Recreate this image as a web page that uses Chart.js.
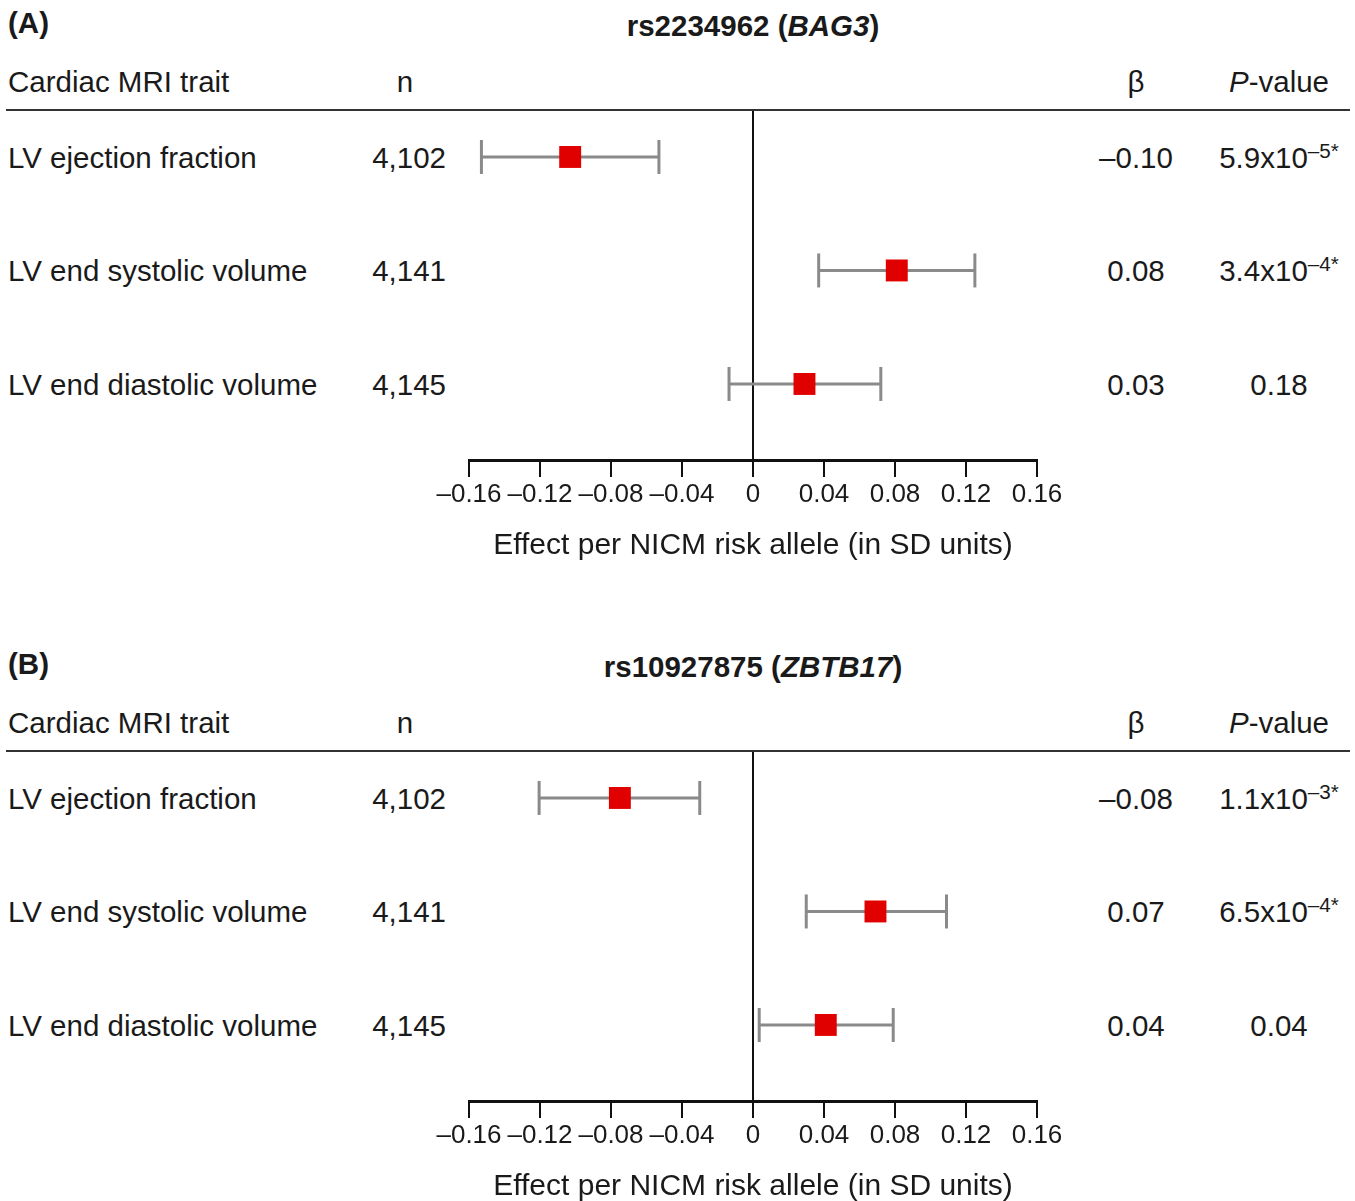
<!DOCTYPE html>
<html lang="en">
<head>
<meta charset="UTF-8">
<title>Cardiac MRI forest plot</title>
<script src="https://cdn.jsdelivr.net/npm/chart.js"></script>
<style>
  body { margin: 0; background: #fff; }
  #page { position: relative; width: 1355px; height: 1201px; overflow: hidden;
          font-family: "Liberation Sans", Arial, sans-serif; color: #1a1a1a; }
  .t { position: absolute; white-space: nowrap; line-height: 1.15; font-size: 29.5px; }
  .t sup { font-size: 0.7em; vertical-align: 0.5em; line-height: 0; }
  .rule { position: absolute; height: 2px; background: #333; }
  canvas { position: absolute; left: 0; }
</style>
</head>
<body>
<div id="page"></div>

<script>
// shared rows
const traits = ['LV ejection fraction', 'LV end systolic volume', 'LV end diastolic volume'];
const sampleN = ['4,102', '4,141', '4,145'];
const xTicks = [-0.16, -0.12, -0.08, -0.04, 0, 0.04, 0.08, 0.12, 0.16];

// panel A: rs2234962 (BAG3)
const betaA = [-0.103, 0.081, 0.029];
const lowA = [-0.153, 0.037, -0.0135];
const highA = [-0.053, 0.125, 0.072];
const betaTextA = ['–0.10', '0.08', '0.03'];
const pBaseA = ['5.9x10', '3.4x10', '0.18'];
const pExpA = ['–5*', '–4*', ''];

// panel B: rs10927875 (ZBTB17)
const betaB = [-0.075, 0.069, 0.041];
const lowB = [-0.1205, 0.030, 0.0035];
const highB = [-0.030, 0.109, 0.079];
const betaTextB = ['–0.08', '0.07', '0.04'];
const pBaseB = ['1.1x10', '6.5x10', '0.04'];
const pExpB = ['–3*', '–4*', ''];

const page = document.getElementById('page');

function label(html, x, y, align, extra) {
    const d = document.createElement('div');
    d.className = 't';
    d.innerHTML = html;
    d.style.left = x + 'px';
    d.style.top = y + 'px';
    const tx = align === 'center' ? '-50%' : align === 'right' ? '-100%' : '0';
    d.style.transform = 'translate(' + tx + ',-50%)';
    if (extra) Object.assign(d.style, extra);
    page.appendChild(d);
}

function panel(top, tag, snp, gene, beta, low, high, betaText, pBase, pExp) {
    const rowY = [158, 271, 385];

    label(tag, 8, top + 23, 'left', { fontWeight: 'bold' });
    label(snp + ' (<i>' + gene + '</i>)', 753, top + 26, 'center', { fontWeight: 'bold' });

    label('Cardiac MRI trait', 8, top + 82, 'left');
    label('n', 405, top + 82, 'center');
    label('β', 1136, top + 82, 'center');
    label('<i>P</i>-value', 1279, top + 82, 'center');

    const r = document.createElement('div');
    r.className = 'rule';
    r.style.left = '6px';
    r.style.width = '1344px';
    r.style.top = (top + 109) + 'px';
    page.appendChild(r);

    traits.forEach((tr, i) => {
        label(tr, 8, top + rowY[i], 'left');
        label(sampleN[i], 446, top + rowY[i], 'right');
        label(betaText[i], 1136, top + rowY[i], 'center');
        label(pBase[i] + (pExp[i] ? '<sup>' + pExp[i] + '</sup>' : ''), 1279, top + rowY[i], 'center');
    });

    const cv = document.createElement('canvas');
    cv.width = 1355;
    cv.height = 460;
    cv.style.top = (top + 111) + 'px';
    page.appendChild(cv);

    const whiskers = traits.map((tr, i) => ({
        type: 'line',
        label: tr + ' CI',
        data: [{ x: low[i], y: i + 1 }, { x: high[i], y: i + 1 }],
        showLine: true,
        borderColor: '#8a8a8a',
        borderWidth: 3,
        pointStyle: 'line',
        rotation: 90,
        pointRadius: 17,
        pointBorderColor: '#8a8a8a',
        pointBorderWidth: 3,
        order: 2
    }));

    new Chart(cv.getContext('2d'), {
        type: 'scatter',
        data: {
            datasets: [{
                label: 'beta',
                data: beta.map((b, i) => ({ x: b, y: i + 1 })),
                pointStyle: 'rect',
                pointRadius: 15.5,
                backgroundColor: '#e00000',
                borderColor: '#e00000',
                borderWidth: 0,
                order: 0
            }, ...whiskers]
        },
        options: {
            responsive: false,
            animation: false,
            devicePixelRatio: 1,
            layout: { autoPadding: false, padding: { left: 469, right: 318, top: 0, bottom: 0 } },
            plugins: { legend: { display: false }, tooltip: { enabled: false } },
            scales: {
                x: {
                    type: 'linear',
                    min: xTicks[0],
                    max: xTicks[xTicks.length - 1],
                    afterBuildTicks: s => { s.ticks = xTicks.map(v => ({ value: v })); },
                    afterFit: s => { s.height = 111; },
                    border: { display: true, color: '#111', width: 3 },
                    grid: {
                        drawOnChartArea: true,
                        color: c => (c.tick && Math.abs(c.tick.value) < 1e-9) ? '#111' : 'rgba(0,0,0,0)',
                        lineWidth: 2,
                        tickColor: '#111',
                        tickWidth: 2,
                        tickLength: 17
                    },
                    ticks: {
                        color: '#1a1a1a',
                        font: { family: 'Liberation Sans', size: 26 },
                        padding: 2,
                        maxRotation: 0,
                        autoSkip: false,
                        callback: v => Math.abs(v) < 1e-9 ? '0' : (v < 0 ? '–' : '') + Math.abs(v).toFixed(2)
                    },
                    title: {
                        display: true,
                        text: 'Effect per NICM risk allele (in SD units)',
                        color: '#1a1a1a',
                        font: { family: 'Liberation Sans', size: 30 },
                        padding: { top: 0, bottom: 7 }
                    }
                },
                y: {
                    type: 'linear',
                    display: false,
                    reverse: true,
                    min: 0.595,
                    max: 3.67
                }
            }
        }
    });
}

panel(0, '(A)', 'rs2234962', 'BAG3', betaA, lowA, highA, betaTextA, pBaseA, pExpA);
panel(641, '(B)', 'rs10927875', 'ZBTB17', betaB, lowB, highB, betaTextB, pBaseB, pExpB);
</script>
</body>
</html>
